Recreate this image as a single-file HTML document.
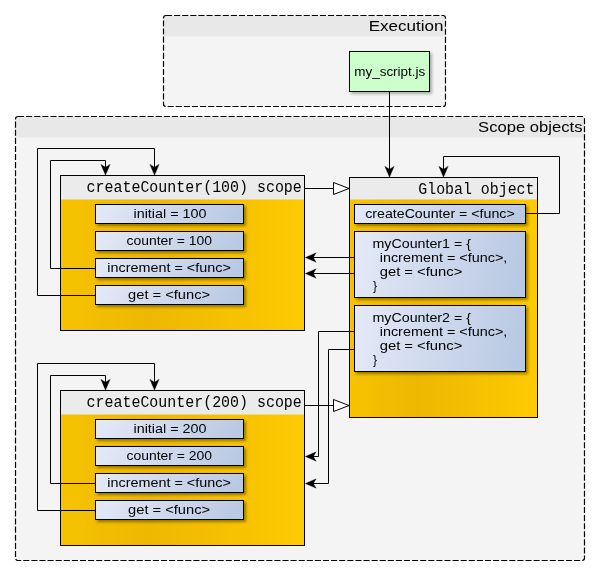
<!DOCTYPE html>
<html>
<head>
<meta charset="utf-8">
<title>Scope objects</title>
<style>
html,body{margin:0;padding:0;background:#ffffff;}
body{width:600px;height:576px;overflow:hidden;font-family:"Liberation Sans",sans-serif;}
svg{display:block;position:absolute;left:0;top:0;will-change:transform;opacity:0.999;}
.sans{font-family:"Liberation Sans",sans-serif;fill:#000;}
.mono{font-family:"Liberation Mono",monospace;fill:#000;}
.ln{fill:none;stroke:#000;stroke-width:1;}
</style>
</head>
<body>
<svg width="600" height="576" viewBox="0 0 600 576">
<defs>
  <linearGradient id="gy" x1="0" y1="0" x2="1" y2="0">
    <stop offset="0" stop-color="#f6c300"/>
    <stop offset="0.36" stop-color="#eeb700"/>
    <stop offset="0.75" stop-color="#f7c300"/>
    <stop offset="1" stop-color="#feca00"/>
  </linearGradient>
  <linearGradient id="gb" x1="0" y1="0" x2="1" y2="0.08">
    <stop offset="0" stop-color="#e4eaf7"/>
    <stop offset="1" stop-color="#bac9e3"/>
  </linearGradient>
  <filter id="sh" x="-10%" y="-20%" width="125%" height="160%">
    <feGaussianBlur in="SourceAlpha" stdDeviation="1.8"/>
    <feOffset dx="2" dy="2" result="o"/>
    <feComponentTransfer><feFuncA type="linear" slope="0.4"/></feComponentTransfer>
    <feMerge><feMergeNode/><feMergeNode in="SourceGraphic"/></feMerge>
  </filter>
  <filter id="sh2" x="-10%" y="-20%" width="125%" height="160%">
    <feGaussianBlur in="SourceAlpha" stdDeviation="1.8"/>
    <feOffset dx="2" dy="2" result="o"/>
    <feComponentTransfer><feFuncA type="linear" slope="0.3"/></feComponentTransfer>
    <feMerge><feMergeNode/><feMergeNode in="SourceGraphic"/></feMerge>
  </filter>
  <path id="ah" d="M0,-0.3 L-4.7,-11.2 L0,-8.3 L4.7,-11.2 Z" fill="#000" stroke="#000" stroke-width="0.3" stroke-linejoin="miter"/>
</defs>

<!-- Execution group -->
<g>
  <clipPath id="c1"><rect x="163.5" y="15.5" width="282" height="91" rx="2.5"/></clipPath>
  <rect x="163.5" y="15.5" width="282" height="91" rx="2.5" fill="#f4f4f4"/>
  <rect x="163.5" y="15.5" width="282" height="21" fill="#e8e8e8" clip-path="url(#c1)"/>
  <path d="M166,15.5 H443 A2.5,2.5 0 0 1 445.5,18 V104 A2.5,2.5 0 0 1 443,106.5 H166 A2.5,2.5 0 0 1 163.5,104 V18 A2.5,2.5 0 0 1 166,15.5 Z" fill="none" stroke="#000" stroke-width="1.2" stroke-dasharray="6.1 2"/>
  <text class="sans" x="368.7" y="31" font-size="15.3" textLength="74.8" lengthAdjust="spacingAndGlyphs">Execution</text>
</g>

<!-- Scope objects group -->
<g>
  <clipPath id="c2"><rect x="15.5" y="116.5" width="569" height="444" rx="2.5"/></clipPath>
  <rect x="15.5" y="116.5" width="569" height="444" rx="2.5" fill="#f4f4f4"/>
  <rect x="15.5" y="116.5" width="569" height="21" fill="#e8e8e8" clip-path="url(#c2)"/>
  <path d="M18,116.5 H582 A2.5,2.5 0 0 1 584.5,119 V558 A2.5,2.5 0 0 1 582,560.5 H18 A2.5,2.5 0 0 1 15.5,558 V119 A2.5,2.5 0 0 1 18,116.5 Z" fill="none" stroke="#000" stroke-width="1.2" stroke-dasharray="6.1 2"/>
  <text class="sans" x="478.1" y="132" font-size="15.3" textLength="104.4" lengthAdjust="spacingAndGlyphs">Scope objects</text>
</g>

<!-- my_script.js -->
<g>
  <rect x="349.5" y="51.5" width="80" height="40" fill="#ccffcc" stroke="#000" stroke-width="1" filter="url(#sh2)"/>
  <text class="sans" x="354.25" y="76" font-size="12" textLength="71" lengthAdjust="spacingAndGlyphs">my_script.js</text>
</g>
<path class="ln" d="M389.5,91.5 V170"/>
<use href="#ah" transform="translate(389.5,177.5)"/>

<!-- Scope box 1 -->
<g id="scope1">
  <rect x="60.5" y="175.5" width="244" height="155" fill="url(#gy)"/>
  <rect x="60.5" y="175.5" width="244" height="24" fill="#ebebeb"/>
  <rect x="60.5" y="175.5" width="244" height="155" fill="none" stroke="#000" stroke-width="1"/>
  <text class="mono" x="86.6" y="192" font-size="15.8" textLength="215.2" lengthAdjust="spacingAndGlyphs">createCounter(100) scope</text>
  <g filter="url(#sh)">
    <rect x="95.5" y="204.5" width="148" height="19" fill="url(#gb)" stroke="#000"/>
    <rect x="95.5" y="231.5" width="148" height="19" fill="url(#gb)" stroke="#000"/>
    <rect x="95.5" y="258.5" width="148" height="19" fill="url(#gb)" stroke="#000"/>
    <rect x="95.5" y="285.5" width="148" height="19" fill="url(#gb)" stroke="#000"/>
  </g>
  <text class="sans" x="133.5" y="218" font-size="12" textLength="73" lengthAdjust="spacingAndGlyphs">initial = 100</text>
  <text class="sans" x="126.5" y="245" font-size="12" textLength="85.4" lengthAdjust="spacingAndGlyphs">counter = 100</text>
  <text class="sans" x="107.3" y="272" font-size="12" textLength="123.5" lengthAdjust="spacingAndGlyphs">increment = &lt;func&gt;</text>
  <text class="sans" x="128.1" y="299" font-size="12" textLength="82" lengthAdjust="spacingAndGlyphs">get = &lt;func&gt;</text>
  <path class="ln" d="M95.5,268.5 H50.5 V160.5 H105.5 V170"/>
  <use href="#ah" transform="translate(105.5,175.5)"/>
  <path class="ln" d="M95.5,295.5 H37.5 V148.5 H154.5 V170"/>
  <use href="#ah" transform="translate(154.5,175.5)"/>
</g>

<!-- Scope box 2 -->
<g id="scope2" transform="translate(0,215)">
  <rect x="60.5" y="175.5" width="244" height="155" fill="url(#gy)"/>
  <rect x="60.5" y="175.5" width="244" height="24" fill="#ebebeb"/>
  <rect x="60.5" y="175.5" width="244" height="155" fill="none" stroke="#000" stroke-width="1"/>
  <text class="mono" x="86.6" y="192" font-size="15.8" textLength="215.2" lengthAdjust="spacingAndGlyphs">createCounter(200) scope</text>
  <g filter="url(#sh)">
    <rect x="95.5" y="204.5" width="148" height="19" fill="url(#gb)" stroke="#000"/>
    <rect x="95.5" y="231.5" width="148" height="19" fill="url(#gb)" stroke="#000"/>
    <rect x="95.5" y="258.5" width="148" height="19" fill="url(#gb)" stroke="#000"/>
    <rect x="95.5" y="285.5" width="148" height="19" fill="url(#gb)" stroke="#000"/>
  </g>
  <text class="sans" x="133.5" y="218" font-size="12" textLength="73" lengthAdjust="spacingAndGlyphs">initial = 200</text>
  <text class="sans" x="126.5" y="245" font-size="12" textLength="85.4" lengthAdjust="spacingAndGlyphs">counter = 200</text>
  <text class="sans" x="107.3" y="272" font-size="12" textLength="123.5" lengthAdjust="spacingAndGlyphs">increment = &lt;func&gt;</text>
  <text class="sans" x="128.1" y="299" font-size="12" textLength="82" lengthAdjust="spacingAndGlyphs">get = &lt;func&gt;</text>
  <path class="ln" d="M95.5,268.5 H50.5 V160.5 H105.5 V170"/>
  <use href="#ah" transform="translate(105.5,175.5)"/>
  <path class="ln" d="M95.5,295.5 H37.5 V148.5 H154.5 V170"/>
  <use href="#ah" transform="translate(154.5,175.5)"/>
</g>

<!-- Global object -->
<g id="global">
  <rect x="349.5" y="177.5" width="188" height="240" fill="url(#gy)"/>
  <rect x="349.5" y="177.5" width="188" height="22" fill="#ebebeb"/>
  <rect x="349.5" y="177.5" width="188" height="240" fill="none" stroke="#000" stroke-width="1"/>
  <text class="mono" x="418.3" y="194" font-size="15.8" textLength="116.2" lengthAdjust="spacingAndGlyphs">Global object</text>
  <g filter="url(#sh)">
    <rect x="354.5" y="204.5" width="171" height="19" fill="url(#gb)" stroke="#000"/>
    <rect x="354.5" y="231.5" width="171" height="66" fill="url(#gb)" stroke="#000"/>
    <rect x="354.5" y="305.5" width="171" height="66" fill="url(#gb)" stroke="#000"/>
  </g>
  <text class="sans" x="365.2" y="218" font-size="12" textLength="149.5" lengthAdjust="spacingAndGlyphs">createCounter = &lt;func&gt;</text>

  <text class="sans" x="372.5" y="247.7" font-size="12" textLength="98.5" lengthAdjust="spacingAndGlyphs">myCounter1 = {</text>
  <text class="sans" x="379.7" y="261.7" font-size="12" textLength="127.7" lengthAdjust="spacingAndGlyphs">increment = &lt;func&gt;,</text>
  <text class="sans" x="379.7" y="275.6" font-size="12" textLength="82.7" lengthAdjust="spacingAndGlyphs">get = &lt;func&gt;</text>
  <text class="sans" x="373" y="289.5" font-size="12">}</text>

  <text class="sans" x="372.5" y="321.7" font-size="12" textLength="98.5" lengthAdjust="spacingAndGlyphs">myCounter2 = {</text>
  <text class="sans" x="379.7" y="335.7" font-size="12" textLength="127.7" lengthAdjust="spacingAndGlyphs">increment = &lt;func&gt;,</text>
  <text class="sans" x="379.7" y="349.6" font-size="12" textLength="82.7" lengthAdjust="spacingAndGlyphs">get = &lt;func&gt;</text>
  <text class="sans" x="373" y="363.5" font-size="12">}</text>
</g>

<!-- connectors -->
<path class="ln" d="M525.5,213.5 H559.5 V156.5 H443.5 V170"/>
<use href="#ah" transform="translate(443.5,177.5)"/>

<path class="ln" d="M354.5,257.5 H312"/>
<use href="#ah" transform="translate(305,257.5) rotate(90)"/>
<path class="ln" d="M354.5,273.5 H312"/>
<use href="#ah" transform="translate(305,273.5) rotate(90)"/>

<path class="ln" d="M354.5,331.5 H318.5 V456.5 H312"/>
<use href="#ah" transform="translate(305,456.5) rotate(90)"/>
<path class="ln" d="M354.5,349.5 H328.5 V483.5 H312"/>
<use href="#ah" transform="translate(305,483.5) rotate(90)"/>

<!-- hollow inheritance arrows -->
<path class="ln" d="M304.5,188.5 H333.5"/>
<path d="M333.5,182.5 L349,188.5 L333.5,194.5 Z" fill="#fff" stroke="#000" stroke-width="1"/>
<path class="ln" d="M304.5,405.5 H333.5"/>
<path d="M333.5,399.5 L349,405.5 L333.5,411.5 Z" fill="#fff" stroke="#000" stroke-width="1"/>
</svg>
</body>
</html>
